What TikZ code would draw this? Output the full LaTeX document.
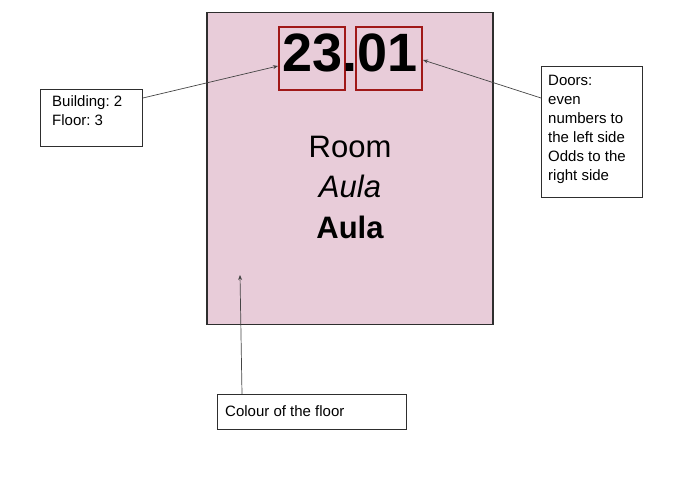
\documentclass[tikz,border=0pt]{standalone}
\usepackage{fontspec}
\setmainfont{Liberation Sans}
\usetikzlibrary{arrows.meta,positioning}
\definecolor{signpink}{HTML}{E8CCD9}
\definecolor{boxred}{HTML}{A01818}
\definecolor{edge}{HTML}{2E2E2E}
\definecolor{pointer}{HTML}{444444}
\frenchspacing

\begin{document}
\begin{tikzpicture}[x=1pt, y=-1pt,
  notebox/.style={draw=edge, line width=0.9pt, fill=white, inner sep=0pt, anchor=north west},
  notetext/.style={inner sep=0pt, anchor=north west, align=left, font=\fontsize{15}{19}\selectfont},
  numbox/.style={draw=boxred, line width=2pt, inner sep=0pt, minimum width=66, minimum height=63},
  signtext/.style={anchor=base, inner sep=0pt, font=\fontsize{31}{31}\selectfont},
  callout/.style={draw=pointer, line width=0.7pt, -{Stealth[length=5pt, width=4pt]}}]
  \useasboundingbox (0,0) rectangle (680,478);
  % The sign
  \node[draw=edge, line width=1.5pt, fill=signpink, inner sep=0pt, minimum width=286, minimum height=312, anchor=north west] (sign) at (206,12) {};
  \node[numbox] (lbox) at (312,58.5) {};
  \node[numbox] (rbox) at (389,58.5) {};
  \node[anchor=base, inner sep=0pt, font=\fontsize{54}{54}\selectfont\bfseries] (number) at (350,72) {23.01};
  \node[signtext] (room) at (350,158) {Room};
  \node[signtext, font=\fontsize{31}{31}\selectfont\itshape] (aula) at (350,198) {Aula};
  \node[signtext, font=\fontsize{31}{31}\selectfont\bfseries] (aulab) at (350,239) {Aula};
  % Notes
  \node[notebox, minimum width=102, minimum height=57] (bldg) at (40,89) {};
  \node[notetext] (bldgtext) at (52,95) {Building: 2\\Floor: 3};
  \node[notebox, minimum width=101, minimum height=131] (doors) at (541,66) {};
  \node[notetext] (doorstext) at (548,75) {Doors:\\even\\numbers to\\the left side\\Odds to the\\right side};
  \node[notebox, minimum width=189, minimum height=35] (colour) at (217,394) {};
  \node[notetext, anchor=west] (colourtext) at (225,411.5) {Colour of the floor};
  \coordinate (floorpt) at (240,275);
  % Pointers
  \draw[callout] ([yshift=-9pt]bldg.north east) -- ([yshift=-7.5pt]lbox.west);
  \draw[callout] ([yshift=-32pt]doors.north west) -- ([yshift=-1.5pt]rbox.east);
  \draw[callout] ([xshift=25pt]colour.north west) -- (floorpt);
\end{tikzpicture}
\end{document}
